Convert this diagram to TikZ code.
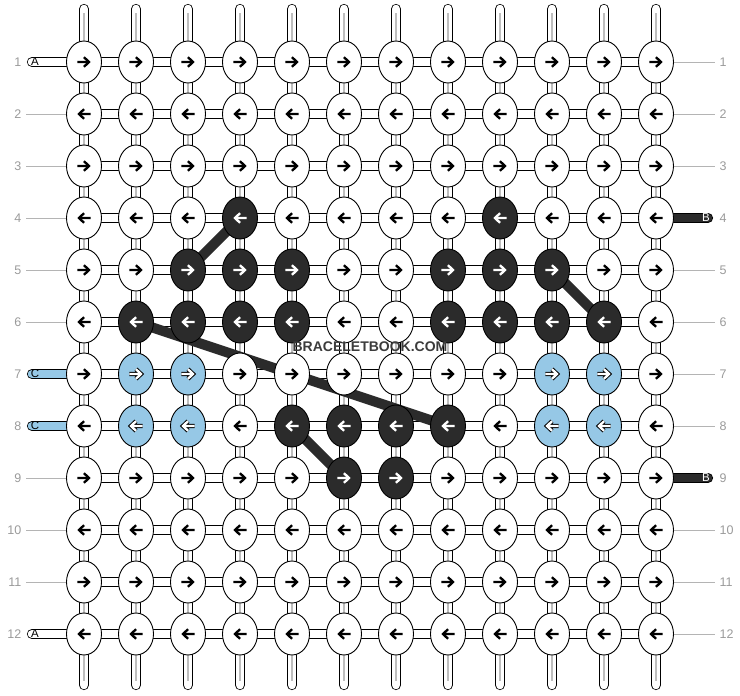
\documentclass[tikz,border=0pt]{standalone}
\usepackage{fontspec}
\setmainfont{Liberation Sans}
\usetikzlibrary{shapes.geometric}
\definecolor{darkc}{HTML}{2B2B2B}
\definecolor{bluec}{HTML}{96C8E6}
\definecolor{labelgray}{HTML}{9A9A9A}
\definecolor{linegray}{HTML}{B4B4B4}
\definecolor{coregray}{HTML}{BEBEBE}
\definecolor{brandgray}{HTML}{3C3C3C}
\pgfdeclarelayer{strands}
\pgfdeclarelayer{diag}
\pgfsetlayers{strands,diag,main}
\newcommand\knotarrow[3]{%
  \draw[#1, shift={(#2.center)}, xscale=#3] (-6.7,0) -- (4.6,0) (0,-4.8) -- (5,0) -- (0,4.8);}
\begin{document}
\begin{tikzpicture}[x=1pt,y=-1pt,
  knot/.style={ellipse, draw=black, line width=0.9pt, minimum width=35pt, minimum height=42pt, inner sep=0pt},
  kn-0/.style={fill=white},
  kn-1/.style={fill=darkc},
  kn-2/.style={fill=bluec},
  strandv/.style={draw=black, line width=0.8pt, double=white, double distance=8.6pt, line cap=round},
  strandh/.style={draw=black, line width=0.8pt, double=white, double distance=8.6pt},
  strandcore/.style={draw=coregray, line width=1.6pt},
  tailwhite/.style={draw=black, line width=0.8pt, double=white, double distance=8.6pt, line cap=round},
  tailblue/.style={draw=black, line width=0.8pt, double=bluec, double distance=8.6pt, line cap=round},
  taildark/.style={draw=black, line width=0.8pt, double=darkc, double distance=8.6pt, line cap=round},
  diagline/.style={draw=darkc, line width=10pt},
  labline/.style={draw=linegray, line width=0.8pt},
  numlab/.style={font=\fontsize{12.5}{13}\selectfont, text=labelgray, inner sep=0pt},
  taillab/.style={font=\fontsize{11.5}{12}\selectfont, inner sep=0pt},
  ar-dark/.style={draw=black, line width=2.3pt, line join=miter},
  ar-light/.style={draw=white, line width=2.3pt, line join=miter},
  ar-outline/.style={draw=black, line width=4.3pt, line join=miter},
]
\useasboundingbox (0,0) rectangle (740,696);
\foreach \r/\c in {4/4,4/9,5/3,5/4,5/5,5/8,5/9,5/10,6/2,6/3,6/4,6/5,6/8,6/9,6/10,6/11,8/5,8/6,8/7,8/8,9/6,9/7}{
  \expandafter\xdef\csname kc-\r-\c\endcsname{1}}
\foreach \r/\c in {7/2,7/3,7/10,7/11,8/2,8/3,8/10,8/11}{
  \expandafter\xdef\csname kc-\r-\c\endcsname{2}}
% knots and their arrows
\foreach \r in {1,...,12}{
  \foreach \c in {1,...,12}{
    \pgfmathsetmacro\xx{32+52*\c}
    \pgfmathsetmacro\yy{10+52*\r}
    \def\knk{0}
    \ifcsname kc-\r-\c\endcsname \edef\knk{\csname kc-\r-\c\endcsname}\fi
    \node[knot, kn-\knk] (k-\r-\c) at (\xx,\yy) {};
    \ifodd\r \def\dir{1}\else\def\dir{-1}\fi
    \ifnum\knk=0
      \knotarrow{ar-dark}{k-\r-\c}{\dir}
    \else
      \ifnum\knk=2
        \knotarrow{ar-outline}{k-\r-\c}{\dir}
      \fi
      \knotarrow{ar-light}{k-\r-\c}{\dir}
    \fi
  }
}
% strands
\begin{pgfonlayer}{strands}
\foreach \c in {1,...,12}{
  \pgfmathsetmacro\xx{32+52*\c}
  \coordinate (t-\c) at (\xx,9);
  \coordinate (b-\c) at (\xx,685);
  \draw[strandv] (t-\c) -- (b-\c);
  \draw[strandcore, shorten <=4pt, shorten >=4pt] (t-\c) -- (b-\c);
}
\foreach \r in {1,...,12}{
  \draw[strandh] (k-\r-1.center) -- (k-\r-12.center);
}
\foreach \r/\s in {1/tailwhite,12/tailwhite,7/tailblue,8/tailblue}{
  \pgfmathsetmacro\yy{10+52*\r}
  \coordinate (lt-\r) at (32,\yy);
  \draw[\s] (lt-\r) -- (k-\r-1.center);
}
\foreach \r in {4,9}{
  \pgfmathsetmacro\yy{10+52*\r}
  \coordinate (rt-\r) at (708,\yy);
  \draw[taildark] (k-\r-12.center) -- (rt-\r);
}
\end{pgfonlayer}
% pattern lines
\begin{pgfonlayer}{diag}
\draw[diagline] (k-4-4.center) -- (k-5-3.center);
\draw[diagline] (k-5-10.center) -- (k-6-11.center);
\draw[diagline] (k-6-2.center) -- (k-8-8.center);
\draw[diagline] (k-8-5.center) -- (k-9-6.center);
\end{pgfonlayer}
% tail letters
\node[taillab] (la-1) at (35,62) {A};
\node[taillab] (la-12) at (35,634) {A};
\node[taillab] (la-7) at (35,374) {C};
\node[taillab] (la-8) at (35,426) {C};
\node[taillab, text=white] (lb-4) at (706,218) {B};
\node[taillab, text=white] (lb-9) at (706,478) {B};
% row label lines
\foreach \r in {2,3,4,5,6,9,10,11}{
  \pgfmathsetmacro\yy{10+52*\r}
  \coordinate (ll-\r) at (26,\yy);
  \draw[labline] (ll-\r) -- (k-\r-1);
}
\foreach \r in {1,2,3,5,6,7,8,10,11,12}{
  \pgfmathsetmacro\yy{10+52*\r}
  \coordinate (lr-\r) at (715,\yy);
  \draw[labline] (k-\r-12) -- (lr-\r);
}
% row numbers
\foreach \r in {1,...,12}{
  \pgfmathsetmacro\yy{10+52*\r}
  \node[numlab, anchor=east] (nl-\r) at (21.5,\yy) {\r};
  \node[numlab, anchor=west] (nr-\r) at (719.5,\yy) {\r};
}
\node[font=\fontsize{14}{14}\selectfont\bfseries, text=brandgray, inner sep=0pt] (brand) at (370,347) {BRACELETBOOK.COM};
\end{tikzpicture}
\end{document}
